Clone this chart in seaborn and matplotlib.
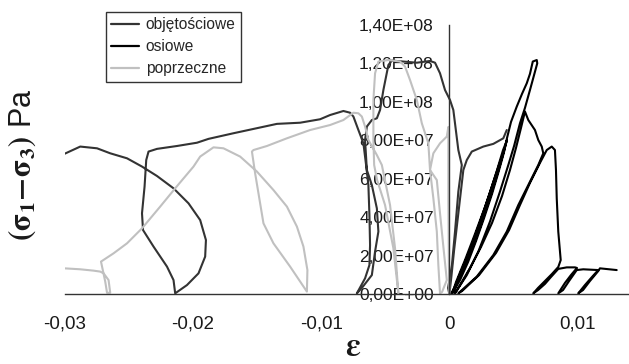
import numpy as np
import pandas as pd
import matplotlib
matplotlib.use("Agg")
import matplotlib.pyplot as plt
import seaborn as sns

sns.set_style("white")
plt.rcParams['font.family'] = ['Liberation Sans', 'DejaVu Sans']
plt.rcParams['mathtext.fontset'] = 'stix'

# ---- data (strain in permil, stress in MPa) ----
# volumetric strain, main path
vol1_x = [0.0, -0.1, 0.2, 0.44, 0.70, 0.97, 0.70, 0.31, 0.05, -0.34, -0.73, -1.12, -1.51, -2.54, -3.59,
          -4.49, -4.76, -5.15, -5.41, -5.66, -6.05, -6.44, -6.58, -6.44, -6.05, -5.66, -5.54, -5.80,
          -6.05, -6.83, -7.22, -6.58, -6.24, -6.19, -6.24, -6.32, -6.50, -6.71, -7.10, -7.49, -7.75,
          -8.27, -9.31, -10.09, -11.65, -13.46, -16.87, -18.80, -19.70, -21.26, -22.82, -23.48, -23.66,
          -23.79, -23.99, -23.91, -23.09, -22.04, -21.53, -21.40, -20.48, -19.58, -19.06, -19.00,
          -19.45, -20.36, -21.53, -22.82, -23.99, -25.16, -26.47, -27.50, -28.81, -30.05]
vol1_y = [0, 3.3, 15.2, 32.6, 53.4, 67.2, 75.0, 95.8, 101.0, 106.2, 114.9, 120.4, 121.3, 120.4, 121.0,
          121.5, 119.2, 106.2, 95.8, 91.5, 90.6, 87.2, 80.2, 64.6, 56.8, 44.7, 32.6, 22.2,
          10.0, 3.3, 0.5, 8.3, 15.2, 25.6, 41.2, 56.8, 67.2, 78.5, 85.4, 92.4, 94.4,
          95.3, 93.2, 91.0, 89.2, 88.6, 83.7, 80.8, 78.8, 77.1, 75.6, 74.2, 69.8,
          56.0, 42.1, 33.4, 24.8, 14.4, 7.4, 0.5, 4.8, 10.9, 19.6, 28.2,
          38.6, 47.3, 55.1, 61.5, 66.4, 70.7, 73.3, 75.9, 76.8, 73.0]
# volumetric strain, secondary branch
vol2_x = [0.0, 0.17, 0.37, 0.64, 0.91, 1.09, 1.36, 1.75, 2.65, 3.43, 4.21, 4.48]
vol2_y = [0, 10.0, 23.0, 38.6, 54.2, 64.6, 69.8, 74.2, 76.8, 78.2, 81.1, 85.4]

# axial strain
ax_x = [0.1, 0.68, 1.30, 1.93, 2.55, 3.17, 3.72, 4.11,
        3.88, 3.41, 2.78, 2.00, 1.22, 0.52, 0.21,
        0.60, 1.22, 1.85, 2.47, 3.10, 3.64, 4.11, 4.50,
        4.19, 3.72, 3.10, 2.39, 1.61, 0.83, 0.29,
        0.83, 1.46, 2.08, 2.71, 3.33, 3.88, 4.27, 4.50, 4.81, 5.26, 5.67, 6.04, 6.29, 6.51, 6.82,
        6.86, 6.57, 6.29, 5.90, 5.51, 5.05, 4.60, 3.95, 3.17, 2.26, 1.36, 0.44,
        0.83, 1.61, 2.47, 3.33, 4.11, 4.73, 5.20, 5.59, 5.90, 6.16, 6.68, 6.94, 7.21, 7.33,
        6.94, 6.16, 5.38, 4.48, 3.43, 2.14, 0.70,
        0.99, 2.32, 3.64, 4.66, 5.51, 6.29, 7.07, 7.60, 7.99, 8.24, 8.32, 8.38, 8.50, 8.69, 8.50,
        8.01, 7.46, 6.92, 6.55, 6.92, 7.46, 7.93, 8.50, 9.16, 9.80, 9.96,
        9.49, 9.02, 8.50, 8.87, 9.34, 9.94, 10.45, 11.62,
        11.13, 10.58, 10.06, 10.43, 10.97, 11.62, 11.75, 13.06]
ax_y = [0, 6.9, 16.3, 26.2, 37.6, 50.1, 62.0, 71.4,
        67.2, 57.9, 45.4, 31.4, 17.8, 6.4, 0.2,
        5.9, 15.2, 25.1, 36.6, 49.0, 60.5, 70.9, 80.2,
        75.0, 64.6, 51.6, 37.6, 23.0, 10.6, 1.2,
        7.4, 16.8, 27.7, 39.7, 52.2, 64.6, 74.0, 81.3, 89.6, 97.6, 104.2, 109.7, 114.6, 121.0, 121.8,
        120.1, 113.0, 106.2, 96.9, 88.9, 77.1, 67.2, 53.4, 37.8, 22.2, 10.0, 0.5,
        4.8, 13.7, 24.6, 37.1, 51.1, 64.6, 76.1, 86.5, 95.0, 90.6, 85.4, 80.2, 76.8, 73.3,
        67.2, 56.8, 46.4, 32.6, 20.4, 9.2, 0.5,
        1.7, 10.0, 21.5, 33.4, 46.4, 57.9, 68.3, 75.0, 76.8, 75.0, 64.6, 49.9, 32.6, 17.8, 14.2,
        10.6, 6.9, 3.3, 0.5, 2.2, 5.4, 9.0, 13.2, 14.0, 14.0, 13.7,
        10.0, 5.9, 0.5, 2.2, 6.9, 12.6, 13.0, 12.6,
        9.0, 4.8, 0.5, 2.2, 6.9, 12.1, 13.5, 12.6]

# lateral strain
lat_x = [0.0, -0.04, -0.06, -0.08, -0.08, -0.08, -0.08, -0.20, -0.73, -1.25, -1.51, -1.25, -0.98, -0.86, -0.73,
         -0.57, -0.20, -0.47, -0.73, -0.98, -1.51, -1.64, -2.15, -2.54, -3.07, -3.46, -3.85, -4.76, -5.54,
         -5.80, -5.93, -5.93, -5.87, -5.64, -5.02, -4.37, -3.98,
         -4.24, -4.63, -5.27, -5.66, -6.32, -6.58, -6.83, -7.10, -7.49, -8.27, -9.31, -10.87, -12.68,
         -14.24, -15.29, -15.41, -15.16, -14.77, -14.51, -13.73, -12.43, -11.12,
         -11.08, -11.39, -11.90, -12.68, -13.73, -15.02, -16.33, -17.63, -18.41, -19.45, -19.97, -21.40,
         -22.57, -23.99, -25.16, -26.21, -27.19, -26.86, -26.72,
         -26.47, -26.60, -26.99, -27.25, -27.77, -28.81, -30.05]
lat_y = [0, 15.2, 33.4, 49.0, 67.2, 80.2, 87.0, 82.0, 78.5, 73.3, 64.6, 49.9, 32.6, 15.2, 0.5,
         1.2, 7.4, 24.8, 42.1, 59.4, 64.6, 78.5, 88.9, 101.0, 111.4, 118.4, 121.0, 121.8, 121.0,
         114.9, 101.0, 80.2, 67.2, 59.4, 46.4, 23.9, 0.5,
         23.9, 46.4, 67.2, 72.4, 80.2, 87.2, 92.4, 94.1, 94.4, 90.6, 88.0, 85.4, 81.1,
         77.1, 75.0, 74.2, 62.9, 47.3, 36.9, 26.5, 14.4, 1.4,
         12.6, 24.8, 35.2, 45.6, 54.2, 63.8, 71.6, 75.9, 76.4, 71.6, 66.4, 55.1,
         45.6, 34.3, 26.5, 21.3, 17.0, 6.6, 0.8,
         0.8, 7.4, 10.9, 11.8, 12.3, 13.0, 13.5]

series_names = ['objętościowe', 'osiowe', 'poprzeczne']
colors = ['#333333', '#000000', '#c0c0c0']
x_ticks = [-0.03, -0.02, -0.01, 0.0, 0.01]
x_ticklabels = ['-0,03', '-0,02', '-0,01', '0', '0,01']
y_ticks = [0, 2e7, 4e7, 6e7, 8e7, 1e8, 1.2e8, 1.4e8]
y_ticklabels = ['0,00E+00', '2,00E+07', '4,00E+07', '6,00E+07', '8,00E+07',
                '1,00E+08', '1,20E+08', '1,40E+08']

# ---- build long table ----
frames = []
for name, seg, xs, ys in [(series_names[0], 'v1', vol1_x, vol1_y),
                          (series_names[0], 'v2', vol2_x, vol2_y),
                          (series_names[1], 'a1', ax_x, ax_y),
                          (series_names[2], 'l1', lat_x, lat_y)]:
    frames.append(pd.DataFrame({'strain': np.array(xs) / 1000.0,
                                'stress': np.array(ys) * 1e6,
                                'series': name, 'seg': seg,
                                'order': np.arange(len(xs))}))
df = pd.concat(frames, ignore_index=True)

W, H = 629, 364
fig = plt.figure(figsize=(W / 100, H / 100), dpi=100)
ax = fig.add_axes([65 / W, (H - 294.3) / H, 564 / W, 269.3 / H])

sns.lineplot(data=df, x='strain', y='stress', hue='series', units='seg',
             estimator=None, sort=False, hue_order=series_names,
             palette=dict(zip(series_names, colors)), linewidth=1.5, ax=ax, legend=True)

ax.set_xlim(-0.02998, 0.01402)
ax.set_ylim(0, 1.4e8)
ax.set_axisbelow(True)
for s in ['top', 'right']:
    ax.spines[s].set_visible(False)
ax.spines['left'].set_position(('data', 0))
for s in ['left', 'bottom']:
    ax.spines[s].set_color('#333333')
    ax.spines[s].set_linewidth(1.0)

ax.set_xticks(x_ticks)
ax.set_xticklabels(x_ticklabels)
ax.set_yticks(y_ticks)
ax.set_yticklabels(y_ticklabels)
ax.tick_params(axis='x', direction='out', length=4.3, width=1, color='#333333',
               labelsize=13.5, pad=11, labelcolor='#1a1a1a')
ax.tick_params(axis='y', direction='out', length=3.6, width=1, color='#333333',
               labelsize=12.5, pad=7.6, labelcolor='#1a1a1a')
ax.set_xlabel('')
ax.set_ylabel('')

handles, labels = ax.get_legend_handles_labels()
for h in handles:
    h.set_linewidth(1.6)
leg = ax.legend(handles, labels, loc='upper left', bbox_to_anchor=(106 / W, 1 - 11.7 / H),
                bbox_transform=fig.transFigure, frameon=True, fancybox=False,
                edgecolor='#333333', framealpha=1, borderpad=0.35, handlelength=1.8,
                handletextpad=0.4, labelspacing=0.45, fontsize=11.2, borderaxespad=0)
leg.get_frame().set_linewidth(1.0)

fig.text(22 / W, 1 - 164.5 / H, r'$\mathbf{(\sigma_1\!-\!\sigma_3)}$ Pa', rotation=90,
         ha='center', va='center', fontsize=22, color='#1a1a1a')
fig.text(353 / W, 1 - 362.5 / H, r'$\mathbf{\varepsilon}$', ha='center', va='bottom',
         fontsize=24, color='#1a1a1a')

fig.savefig('out.png', dpi=100)
